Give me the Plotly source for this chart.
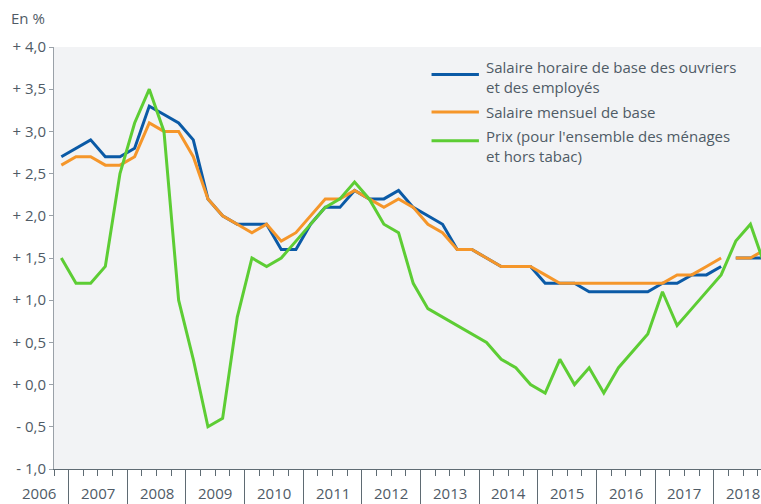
import plotly.graph_objects as go

# ---------------- data ----------------
first_year, first_q = 2006, 4
n_points = 49
quarters = []
y_, q_ = first_year, first_q
for _ in range(n_points):
    quarters.append(f"{y_}-T{q_}")
    q_ += 1
    if q_ > 4:
        q_ = 1
        y_ += 1

salaire_horaire = [2.7, 2.8, 2.9, 2.7, 2.7, 2.8, 3.3, 3.2, 3.1, 2.9, 2.2, 2.0, 1.9,
                   1.9, 1.9, 1.6, 1.6, 1.9, 2.1, 2.1, 2.3, 2.2, 2.2, 2.3, 2.1, 2.0,
                   1.9, 1.6, 1.6, 1.5, 1.4, 1.4, 1.4, 1.2, 1.2, 1.2, 1.1, 1.1, 1.1,
                   1.1, 1.1, 1.2, 1.2, 1.3, 1.3, 1.4, 1.5, 1.5, 1.5]
salaire_mensuel = [2.6, 2.7, 2.7, 2.6, 2.6, 2.7, 3.1, 3.0, 3.0, 2.7, 2.2, 2.0, 1.9,
                   1.8, 1.9, 1.7, 1.8, 2.0, 2.2, 2.2, 2.3, 2.2, 2.1, 2.2, 2.1, 1.9,
                   1.8, 1.6, 1.6, 1.5, 1.4, 1.4, 1.4, 1.3, 1.2, 1.2, 1.2, 1.2, 1.2,
                   1.2, 1.2, 1.2, 1.3, 1.3, 1.4, 1.5, 1.5, 1.5, 1.6]
prix = [1.5, 1.2, 1.2, 1.4, 2.5, 3.1, 3.5, 3.0, 1.0, 0.3, -0.5, -0.4, 0.8,
        1.5, 1.4, 1.5, 1.7, 1.9, 2.1, 2.2, 2.4, 2.2, 1.9, 1.8, 1.2, 0.9,
        0.8, 0.7, 0.6, 0.5, 0.3, 0.2, 0.0, -0.1, 0.3, 0.0, 0.2, -0.1, 0.2,
        0.4, 0.6, 1.1, 0.7, 0.9, 1.1, 1.3, 1.7, 1.9, 1.4]
serie_break = "2018-T2"   # rupture de série des salaires

series_names = ["Salaire horaire de base des ouvriers<br>et des employés",
                "Salaire mensuel de base",
                "Prix (pour l'ensemble des ménages<br>et hors tabac)"]
series_colors = ["#0b5aa6", "#f5962a", "#5dcd34"]

year_labels = [str(y) for y in range(2006, 2019)]
y_ticks = [-1.0, -0.5, 0.0, 0.5, 1.0, 1.5, 2.0, 2.5, 3.0, 3.5, 4.0]
y_ticktext = [("+ " if v >= 0 else "- ") + f"{abs(v):.1f}".replace(".", ",") for v in y_ticks]

# ---------------- helpers ----------------
def qpos(label):
    yr, q = label.split("-T")
    return int(yr) + (int(q) - 0.5) / 4.0

xs = [qpos(q) for q in quarters]
x_range = [2006.75, 2018.805]
TEXT = "#4f5b66"
FONT = "Open Sans"
FS = 15

def with_break(values):
    bx, by = [], []
    for q, x, v in zip(quarters, xs, values):
        if q == serie_break:
            bx.append(x - 0.125)
            by.append(None)
        bx.append(x)
        by.append(v)
    return bx, by

fig = go.Figure()
for vals, col, brk in [(salaire_horaire, series_colors[0], True),
                       (salaire_mensuel, series_colors[1], True),
                       (prix, series_colors[2], False)]:
    if brk:
        tx, ty = with_break(vals)
    else:
        tx, ty = xs, vals
    fig.add_trace(go.Scatter(x=tx, y=ty, mode="lines", showlegend=False,
                             line=dict(color=col, width=3), connectgaps=False,
                             hoverinfo="skip"))

# manual legend
leg_x0, leg_x1, leg_tx = 0.534, 0.601, 0.608
leg_rows = [0.935, 0.846, 0.778]
leg_text_y = [0.929, 0.846, 0.766]
for name, col, ly, ty in zip(series_names, series_colors, leg_rows, leg_text_y):
    fig.add_shape(type="line", xref="paper", yref="paper", x0=leg_x0, x1=leg_x1,
                  y0=ly, y1=ly, line=dict(color=col, width=3))
    fig.add_annotation(xref="paper", yref="paper", x=leg_tx, y=ty, text=name,
                       showarrow=False, xanchor="left", yanchor="middle", align="left",
                       font=dict(family=FONT, size=FS, color=TEXT))

# year labels centred on each year
span = x_range[1] - x_range[0]
for lab in year_labels:
    px = (int(lab) + 0.5 - x_range[0]) / span
    fig.add_annotation(xref="paper", yref="paper", x=px, y=-0.058, text=lab,
                       showarrow=False, xanchor="center", yanchor="middle",
                       font=dict(family=FONT, size=FS, color=TEXT))

fig.add_annotation(xref="paper", yref="paper", x=-0.063, y=1.068, text="En %",
                   showarrow=False, xanchor="left", yanchor="middle",
                   font=dict(family=FONT, size=FS, color=TEXT))

fig.update_layout(
    width=761, height=504,
    margin=dict(l=54, r=0, t=47, b=35),
    paper_bgcolor="white", plot_bgcolor="#f2f3f5",
    font=dict(family=FONT, size=FS, color=TEXT),
    xaxis=dict(range=x_range, showgrid=False, zeroline=False, showline=True,
               linecolor="#5f6b73", linewidth=1,
               tickmode="array", tickvals=list(range(2007, 2019)),
               ticks="outside", ticklen=35, tickcolor="#5f6b73", tickwidth=1,
               showticklabels=False,
               minor=dict(tickmode="array",
                          tickvals=[y + f for y in range(2006, 2019) for f in (0.25, 0.5, 0.75)],
                          ticks="outside", ticklen=6, tickcolor="#5f6b73", tickwidth=1)),
    yaxis=dict(range=[-1, 4], showgrid=False, zeroline=False, showline=True,
               linecolor="#9aa1a8", linewidth=1,
               tickmode="array", tickvals=y_ticks, ticktext=y_ticktext,
               ticks="outside", ticklen=4, tickcolor="#9aa1a8",
               tickfont=dict(family=FONT, size=FS, color=TEXT)),
)

fig.write_html("out.html", config={"displayModeBar": False},
               post_script="document.body.style.margin='0';document.body.style.overflow='hidden';")
